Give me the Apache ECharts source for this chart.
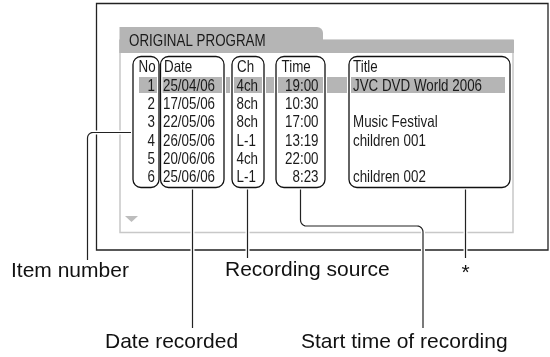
<!DOCTYPE html>
<html>
<head>
<meta charset="utf-8">
<script src="https://cdn.jsdelivr.net/npm/echarts@6/dist/echarts.min.js"></script>
<style>
html,body{margin:0;padding:0;background:#fff;}
#chart{width:550px;height:357px;}
</style>
</head>
<body>
<div id="chart"></div>
<script>
// ---- data ----
const panelTitle = 'ORIGINAL PROGRAM';
const columns = ['No', 'Date', 'Ch', 'Time', 'Title'];
const itemNo = ['1', '2', '3', '4', '5', '6'];
const dates = ['25/04/06', '17/05/06', '22/05/06', '26/05/06', '20/06/06', '25/06/06'];
const channels = ['4ch', '8ch', '8ch', 'L-1', '4ch', 'L-1'];
const times = ['19:00', '10:30', '17:00', '13:19', '22:00', '8:23'];
const titles = ['JVC DVD World 2006', '', 'Music Festival', 'children 001', '', 'children 002'];
const selectedRow = '1';
const callouts = ['Item number', 'Date recorded', 'Recording source', 'Start time of recording', '*'];

// ---- layout ----
const rowKeys = ['header'].concat(itemNo);
const SANS = "'Liberation Sans',Arial,sans-serif";
const TABLE_FONT = '16.5px ' + SANS;
const NARROW_SCALE = 0.81;
const colLayout = [
  {hx: 138.5, ha: 'left', vx: 155, va: 'right', values: itemNo},
  {hx: 164, ha: 'left', vx: 163, va: 'left', values: dates},
  {hx: 237, ha: 'left', vx: 236.5, va: 'left', values: channels},
  {hx: 281.5, ha: 'left', vx: 318.5, va: 'right', values: times},
  {hx: 353, ha: 'left', vx: 353, va: 'left', values: titles}
];
const boxes = [[133, 159], [160.5, 224], [232, 264], [276, 325], [349, 510]];
const boxTop = 56.5, boxBottom = 187.5;

// table cells: [xAnchor, rowKey, text, align]
const cells = [];
colLayout.forEach((c, ci) => {
  cells.push([c.hx, rowKeys[0], columns[ci], c.ha]);
  c.values.forEach((v, i) => cells.push([c.vx, rowKeys[i + 1], v, c.va]));
});

const textSeries = {
  type: 'custom', z: 10, silent: true,
  data: cells,
  encode: {x: 0, y: 1},
  renderItem: (params, api) => {
    const cell = cells[params.dataIndex];
    const p = api.coord([cell[0], cell[1]]);
    return {
      type: 'text', x: p[0], y: p[1] + 0.5, scaleX: NARROW_SCALE, scaleY: 1,
      style: {text: cell[2], font: TABLE_FONT, fill: '#1a1a1a',
        textAlign: cell[3], textVerticalAlign: 'middle'}
    };
  }
};

const highlight = {
  type: 'custom', z: 1, silent: true,
  data: [[0, selectedRow]],
  renderItem: (params, api) => {
    const p0 = api.coord([139, selectedRow]);
    const p1 = api.coord([505, selectedRow]);
    return {type: 'rect', shape: {x: p0[0], y: p0[1] - 8.5, width: p1[0] - p0[0], height: 16},
      style: {fill: '#b5b5b5'}};
  }
};

const graphics = [];
graphics.push({type: 'rect', z: 0, shape: {x: 96.5, y: 3.5, width: 451.5, height: 246.5},
  style: {fill: '#fff', stroke: '#222', lineWidth: 1.3}, silent: true});
graphics.push({type: 'rect', z: 0, shape: {x: 120, y: 40, width: 393, height: 192.5},
  style: {fill: '#fff', stroke: '#c8c8c8', lineWidth: 1.5}, silent: true});
graphics.push({type: 'rect', z: 0, shape: {x: 119.5, y: 40, width: 394.5, height: 13},
  style: {fill: '#b5b5b5'}, silent: true});
graphics.push({type: 'rect', z: 0, shape: {x: 119.5, y: 27, width: 203.5, height: 26, r: [0, 6, 0, 0]},
  style: {fill: '#b5b5b5'}, silent: true});
graphics.push({type: 'text', z: 1, x: 129, y: 41.5, scaleX: NARROW_SCALE,
  style: {text: panelTitle, fill: '#1a1a1a', font: TABLE_FONT, textVerticalAlign: 'middle'}, silent: true});
graphics.push({type: 'polygon', z: 0, shape: {points: [[125, 216], [138, 216], [131.5, 222]]},
  style: {fill: '#bdbdbd'}, silent: true});
boxes.forEach(b => {
  const shape = {x: b[0], y: boxTop, width: b[1] - b[0], height: boxBottom - boxTop, r: 8};
  graphics.push({type: 'rect', z: 5, shape: shape, style: {fill: null, stroke: '#fff', lineWidth: 4}, silent: true});
  graphics.push({type: 'rect', z: 6, shape: shape, style: {fill: null, stroke: '#111', lineWidth: 1.3}, silent: true});
});
function arc(cx, cy, r, a0, a1) {
  const pts = [];
  for (let k = 0; k <= 6; k++) {
    const a = (a0 + (a1 - a0) * k / 6) * Math.PI / 180;
    pts.push([cx + r * Math.cos(a), cy + r * Math.sin(a)]);
  }
  return pts;
}
const connectors = [
  [[133, 132.5]].concat(arc(93, 138, 5.5, 270, 180)).concat([[87.5, 260]]),
  [[192.5, 189], [192.5, 328]],
  [[247.5, 189], [247.5, 258]],
  [[300.5, 189]].concat(arc(306.5, 220, 6, 180, 90)).concat(arc(417, 232, 6, 270, 360)).concat([[423, 328]]),
  [[465.5, 189], [465.5, 258]]
];
connectors.forEach(pts => {
  graphics.push({type: 'polyline', z: 3, shape: {points: pts}, style: {fill: null, stroke: '#fff', lineWidth: 4}, silent: true});
  graphics.push({type: 'polyline', z: 4, shape: {points: pts}, style: {fill: null, stroke: '#222', lineWidth: 1.2}, silent: true});
});
const calloutPos = [[11, 271, 'left'], [105, 342, 'left'], [225, 270, 'left'], [301, 342, 'left'], [465.5, 273, 'center']];
callouts.forEach((t, i) => {
  const p = calloutPos[i];
  graphics.push({type: 'text', z: 7, x: p[0], y: p[1],
    style: {text: t, fill: '#111', font: '21px ' + SANS, textAlign: p[2], textVerticalAlign: 'middle'}, silent: true});
});

const chart = echarts.init(document.getElementById('chart'), null, {renderer: 'canvas'});
chart.setOption({
  animation: false,
  backgroundColor: '#fff',
  grid: {left: 0, width: 550, top: 58, height: 128.3},
  xAxis: {type: 'value', min: 0, max: 550, show: false},
  yAxis: {type: 'category', data: rowKeys, inverse: true, show: false},
  graphic: {elements: graphics},
  series: [highlight, textSeries]
});
</script>
</body>
</html>
